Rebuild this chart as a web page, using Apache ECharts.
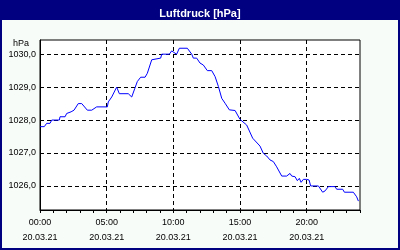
<!DOCTYPE html>
<html>
<head>
<meta charset="utf-8">
<script src="https://cdn.jsdelivr.net/npm/echarts@6/dist/echarts.min.js"></script>
<style>
html,body{margin:0;padding:0;background:#f8fcf8;}
#c{width:400px;height:250px;}
</style>
</head>
<body>
<div id="c"></div>
<script>
// Hours since 00:00 on 20.03.21
var times = [0, 0.32, 0.5, 0.75, 0.88, 1.45, 1.5, 1.88, 2.0, 2.33, 2.55, 2.87, 3.13, 3.55, 3.88, 4.25, 5.05, 5.12, 5.38, 5.75, 5.95, 6.62, 6.88, 7.12, 7.3, 7.55, 7.88, 8.05, 8.38, 8.5, 9.05, 9.13, 9.7, 9.88, 10.05, 10.25, 10.45, 11.05, 11.38, 11.5, 11.75, 12.0, 12.25, 12.55, 12.88, 13.13, 13.38, 13.63, 13.88, 14.2, 14.63, 15.0, 15.5, 15.95, 16.5, 16.75, 17.0, 17.25, 17.5, 17.75, 18.13, 18.5, 18.75, 18.88, 19.13, 19.3, 19.45, 19.58, 19.75, 20.0, 20.18, 20.3, 20.88, 21.2, 21.38, 21.63, 22.13, 22.25, 22.7, 22.83, 23.5, 23.75, 23.88];
var pressure = [1027.8, 1027.8, 1027.9, 1027.9, 1028.0, 1028.0, 1028.1, 1028.1, 1028.2, 1028.25, 1028.3, 1028.5, 1028.5, 1028.3, 1028.3, 1028.4, 1028.4, 1028.55, 1028.7, 1029.0, 1028.8, 1028.8, 1028.7, 1028.97, 1029.17, 1029.3, 1029.3, 1029.42, 1029.83, 1029.88, 1029.88, 1030.0, 1030.0, 1030.1, 1030.05, 1030.0, 1030.18, 1030.18, 1030.0, 1029.88, 1029.88, 1029.73, 1029.67, 1029.5, 1029.5, 1029.32, 1029.02, 1028.66, 1028.51, 1028.31, 1028.29, 1028.02, 1027.85, 1027.45, 1027.21, 1026.99, 1026.91, 1026.79, 1026.74, 1026.58, 1026.3, 1026.3, 1026.38, 1026.3, 1026.28, 1026.16, 1026.23, 1026.11, 1026.2, 1026.2, 1026.18, 1026.0, 1026.0, 1025.81, 1025.85, 1025.98, 1025.98, 1025.9, 1025.9, 1025.81, 1025.81, 1025.67, 1025.54];
var xTickHours = [0, 5, 10, 15, 20];
var dateLabel = '20.03.21';
var titleText = 'Luftdruck [hPa]';
var unitText = 'hPa';

var data = times.map(function (t, i) { return [t, pressure[i]]; });
function pad(n) { return (n < 10 ? '0' : '') + n; }
var FONT = '"Liberation Sans", Arial, sans-serif';

var chart = echarts.init(document.getElementById('c'), null, {renderer: 'canvas'});
chart.setOption({
  backgroundColor: '#f8fcf8',
  animation: false,
  title: {
    text: titleText, left: 'center', top: 1, z: 10,
    textStyle: {color: '#ffffff', fontSize: 11, fontWeight: 'bold', fontFamily: FONT, lineHeight: 16}
  },
  graphic: [
    {type: 'rect', z: 0, shape: {x: 0, y: 0, width: 400, height: 20}, style: {fill: '#000080'}},
    {type: 'rect', z: 0, shape: {x: 1, y: 1, width: 398, height: 248}, style: {fill: 'none', stroke: '#000080', lineWidth: 2}}
  ],
  grid: {left: 40, top: 40, right: 40, bottom: 40, show: true, borderColor: '#000', borderWidth: 1, backgroundColor: '#ffffff'},
  xAxis: [
    {
      type: 'value', min: 0, max: 24, interval: 5, position: 'bottom',
      axisLine: {show: true, lineStyle: {color: '#000', width: 1}},
      axisTick: {show: false},
      splitLine: {show: true, showMinLine: false, showMaxLine: false, lineStyle: {color: '#000', type: [4, 3], width: 1}},
      axisLabel: {
        showMaxLabel: false, margin: 5, color: '#000', fontSize: 9, lineHeight: 15, fontFamily: FONT,
        formatter: function (v) { return xTickHours.indexOf(v) >= 0 ? pad(v) + ':00\n' + dateLabel : ''; }
      }
    },
    {
      type: 'value', min: 0, max: 24, interval: 1, position: 'bottom',
      axisLine: {show: false},
      axisTick: {show: true, length: 3, lineStyle: {color: '#000'}},
      axisLabel: {show: false},
      splitLine: {show: false}
    }
  ],
  yAxis: {
    type: 'value', min: 1025.27, max: 1030.43, splitNumber: 5,
    name: unitText, nameLocation: 'end', nameGap: -4,
    nameTextStyle: {color: '#000', fontSize: 9, fontFamily: FONT, align: 'right', verticalAlign: 'middle', padding: [0, 11, 0, 0]},
    axisLine: {show: true, lineStyle: {color: '#000', width: 1}},
    axisTick: {show: false},
    splitLine: {show: true, showMinLine: false, showMaxLine: false, lineStyle: {color: '#000', type: [4, 3], width: 1}},
    axisLabel: {
      showMinLabel: false, showMaxLabel: false, margin: 4, color: '#000', fontSize: 9, fontFamily: FONT,
      formatter: function (v) { return Math.abs(v - Math.round(v)) < 1e-6 ? v.toFixed(1).replace('.', ',') : ''; }
    }
  },
  series: [{
    type: 'line', xAxisIndex: 0, data: data, showSymbol: false, symbol: 'none',
    lineStyle: {color: '#0000ff', width: 1}, z: 5
  }]
});
</script>
</body>
</html>
